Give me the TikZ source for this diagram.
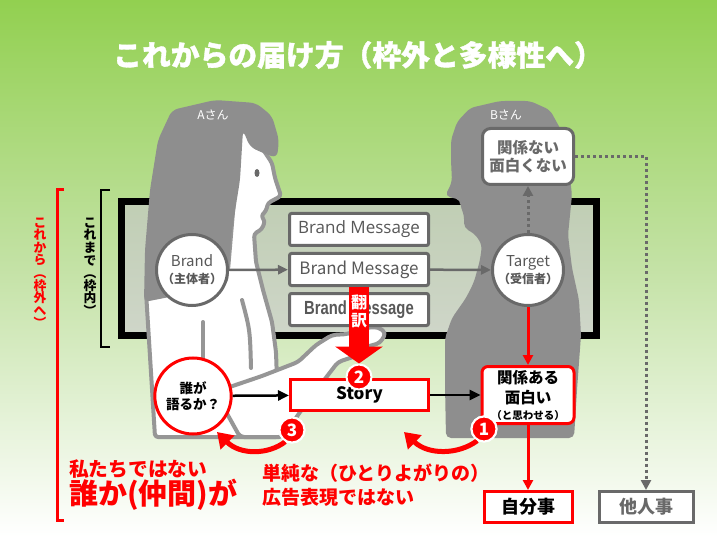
\documentclass[tikz,border=0pt]{standalone}
\usepackage{fontspec}
\setmainfont{Noto Sans CJK JP}
\newfontfamily\thinfont{Open Sans}
\newfontfamily\condfont[FakeStretch=0.78]{Liberation Sans}
\newfontfamily\heavyfont[FakeBold=1.2]{Noto Sans CJK JP}
\usetikzlibrary{positioning,shapes.geometric,arrows.meta}
\definecolor{topgreen}{RGB}{146,208,80}
\definecolor{midgreen}{RGB}{196,226,166}
\definecolor{frametop}{RGB}{192,206,180}
\definecolor{framebot}{RGB}{207,214,201}
\definecolor{persongray}{RGB}{142,142,142}
\definecolor{edgegray}{RGB}{105,105,105}
\definecolor{textgray}{RGB}{88,88,88}
\definecolor{outlinegray}{RGB}{150,150,150}
\newcommand{\vparl}{\rotatebox[origin=c]{-90}{（}}
\newcommand{\vparr}{\rotatebox[origin=c]{-90}{）}}
\begin{document}
\begin{tikzpicture}[x=1pt,y=-1pt,
		msg node/.style = {rectangle,draw=edgegray,line width=3pt,fill=white,rounded corners=2pt,
			minimum width=139pt,minimum height=32pt,inner sep=0pt,text=textgray},
		circ node/.style = {circle,draw=edgegray,line width=3pt,fill=white,minimum size=71pt,
			inner sep=0pt,align=center,text=textgray,font=\fontsize{15}{17}\selectfont},
		red box/.style = {rectangle,draw=red,line width=3pt,fill=white,inner sep=0pt,align=center},
		gray box/.style = {rectangle,draw=edgegray,line width=3pt,fill=white,inner sep=0pt,align=center,text=edgegray},
		badge node/.style = {circle,fill=red,draw=white,line width=2pt,minimum size=25pt,inner sep=0pt,
			text=white,font=\bfseries\fontsize{17}{17}\selectfont},
		gray arrow/.style = {draw=edgegray,line width=2.5pt,-{Triangle[length=10pt,width=9pt]}},
		black arrow/.style = {draw=black,line width=2.5pt,-{Triangle[length=11pt,width=10pt]}},
		red arrow/.style = {draw=red,line width=3pt,-{Triangle[length=10pt,width=10pt]}},
		dot arrow/.style = {draw=edgegray,line width=3pt,dash pattern=on 3pt off 3pt,-{Triangle[length=10pt,width=10pt]}},
		trans arrow/.style = {draw=red,line width=20pt,-{Triangle[length=17pt,width=47pt]}},
		curve arrow/.style = {draw=red,line width=5pt,-{Triangle[length=15pt,width=19pt]}},
		vert text/.style = {align=center,inner sep=0pt,font=\bfseries\fontsize{12.8}{12.6}\selectfont},
		note text/.style = {anchor=west,inner sep=0pt,text=red}]
	
	\useasboundingbox (0,0) rectangle (717,537);
	\fill[top color=topgreen,bottom color=white,middle color=midgreen] (0,0) rectangle (717,537);
	\draw[line width=7pt,top color=frametop,bottom color=framebot] (121.5,201.5) rectangle (596.5,335.5);
	
	\filldraw[fill=white,draw=outlinegray,line width=4pt,line join=round,rounded corners=3pt]
		(238,125) -- (262,148) -- (272,163) -- (275,178) -- (281,196) -- (268,203) -- (266,211) -- (261,216)
		-- (265,221) -- (262,229) -- (254,234) -- (256,262) -- (263,290) -- (272,322) -- (276,352) -- (279,437)
		-- (155,437) -- (146,292) -- (200,283) -- (228,270) -- (234,200) -- cycle;
	\fill[persongray,rounded corners=6pt] (158,140) -- (172,110) -- (215,100) -- (256,103) -- (272,116) -- (279,140)
		-- (277,158) -- (263,153) -- (250,147) -- (243,130) -- (240,180) -- (231,236) -- (228,284) -- (195,292)
		-- (144,302) -- (145,250) -- (150,190) -- cycle;
	\fill[edgegray] (257,173) ellipse [x radius=2.5pt,y radius=4pt];
	\draw[outlinegray,line width=4pt,line cap=round] (203,322) -- (203,367);
	\draw[outlinegray,line width=4pt,line cap=round] (242,300) .. controls (250,330) .. (251,368);
	\filldraw[fill=white,draw=outlinegray,line width=4pt,line join=round,rounded corners=4pt]
		(215,392) -- (262,376) -- (298,362) -- (316,345) -- (332,335) -- (348,334) -- (362,328) -- (378,327)
		-- (386,333) -- (380,343) -- (366,347) -- (356,356) -- (338,362) -- (318,388) -- (300,412) -- (283,437)
		-- (240,437) -- cycle;
	
	\fill[persongray,rounded corners=5pt] (470,108) -- (500,101) -- (530,101) -- (550,110) -- (561,130) -- (568,160)
		-- (572,195) -- (568,235) -- (572,268) -- (579,300) -- (581,335) -- (577,390) -- (574,438) -- (446,438)
		-- (445,385) -- (445,338) -- (452,318) -- (466,298) -- (474,282) -- (480,260) -- (482,245) -- (475,234)
		-- (464,228) -- (464,214) -- (460,206) -- (461,200) -- (445,196) -- (452,182) -- (451,160) -- (451,140)
		-- (457,122) -- cycle;
	
	\draw[line width=2.5pt] (110,190) -- (101,190) -- (101,347) -- (110,347);
	\draw[red,line width=3pt] (64,190) -- (57,190) -- (57,520) -- (64,520);
	\node[vert text] (inside) at (90,267.5) {こ\\れ\\ま\\で\\\vparl\\枠\\内\\\vparr};
	\node[vert text,text=red] (outside) at (40,273.5) {こ\\れ\\か\\ら\\\vparl\\枠\\外\\へ\\\vparr};
	
	\node[text=white,font=\heavyfont\bfseries\fontsize{28.8}{30}\selectfont] (title) at (358,55) {これからの届け方（枠外と多様性へ）};
	\node[text=white,font=\fontsize{12}{12}\selectfont] (aname) at (213,115) {Aさん};
	\node[text=white,font=\fontsize{12}{12}\selectfont] (bname) at (506,115) {Bさん};
	
	\node[msg node,font=\thinfont\fontsize{17}{17}\selectfont] (msg1) at (359,229.5) {Brand Message};
	\node[msg node,below=5pt of msg1,font=\fontsize{17}{17}\selectfont] (msg2) {Brand Message};
	\node[msg node,below=5pt of msg2,font=\condfont\bfseries\fontsize{19}{19}\selectfont] (msg3) {Brand Message};
	\node[circ node] (brand) at (192,270) {Brand\\{\bfseries\fontsize{12}{12}\selectfont （主体者）}};
	\node[circ node] (target) at (528,270) {Target\\{\bfseries\fontsize{12}{12}\selectfont （受信者）}};
	\node[gray box,rounded corners=8pt,minimum width=91pt,minimum height=56pt,
		font=\bfseries\fontsize{15.5}{18}\selectfont] (notrel) at (528,156.5) {関係ない\\面白くない};
	
	\node[red box,minimum width=138pt,minimum height=31pt,font=\bfseries\fontsize{17}{17}\selectfont] (story) at (359.5,395) {Story};
	\node[red box,rounded corners=6pt,minimum width=92pt,minimum height=57pt,
		font=\bfseries\fontsize{15.5}{20}\selectfont] (rel) at (528,395) {関係ある\\面白い\\[-4pt]{\fontsize{10.5}{12}\selectfont （と思わせる）}};
	\node[ellipse,draw=red,line width=3pt,fill=white,minimum width=68pt,minimum height=76pt,inner sep=0pt,
		align=center,font=\bfseries\fontsize{13.5}{16}\selectfont] (who) at (193,396) {誰が\\語るか？};
	\node[red box,minimum width=88pt,minimum height=31pt,font=\bfseries\fontsize{18}{18}\selectfont] (own) at (528,507) {自分事};
	\node[gray box,minimum width=94pt,minimum height=31pt,font=\bfseries\fontsize{18}{18}\selectfont] (other) at (646,507) {他人事};
	
	\draw[gray arrow] (brand) -- (msg2);
	\draw[gray arrow] (msg2) -- (target);
	\draw[dot arrow] (target) -- (notrel);
	\draw[dot arrow] (notrel.east) -| (other.north);
	\draw[red arrow] (target) -- (rel);
	\draw[red arrow] (rel) -- (own);
	\draw[black arrow] (who) -- (story);
	\draw[black arrow] (story) -- (rel);
	
	\coordinate (e1) at (404,432);
	\coordinate (e3) at (217,432);
	\node[badge node] (b1) at (484,429) {1};
	\node[badge node] (b2) at (359,377) {2};
	\node[badge node] (b3) at (292,430) {3};
	\draw[trans arrow] (msg2.south) -- (b2.north);
	\node[text=white,align=center,inner sep=0pt,font=\bfseries\fontsize{16}{18}\selectfont] (transl) at (359,311) {翻\\訳};
	\draw[curve arrow] (b1.240) .. controls (458,455) and (428,455) .. (e1);
	\draw[curve arrow] (b3.240) .. controls (268,455) and (240,455) .. (e3);
	\node[badge node] at (b1) {1};
	\node[badge node] at (b3) {3};
	
	\node[note text,font=\bfseries\fontsize{19.7}{22}\selectfont] (notus) at (69,469) {私たちではない};
	\node[note text,font=\bfseries\fontsize{29}{30}\selectfont] (someone) at (69,495) {誰か(仲間)が};
	\node[note text,font=\bfseries\fontsize{19}{22}\selectfont] (simple) at (262,473) {単純な（ひとりよがりの）};
	\node[note text,font=\bfseries\fontsize{19}{22}\selectfont] (adnot) at (262,497) {広告表現ではない};
\end{tikzpicture}
\end{document}
